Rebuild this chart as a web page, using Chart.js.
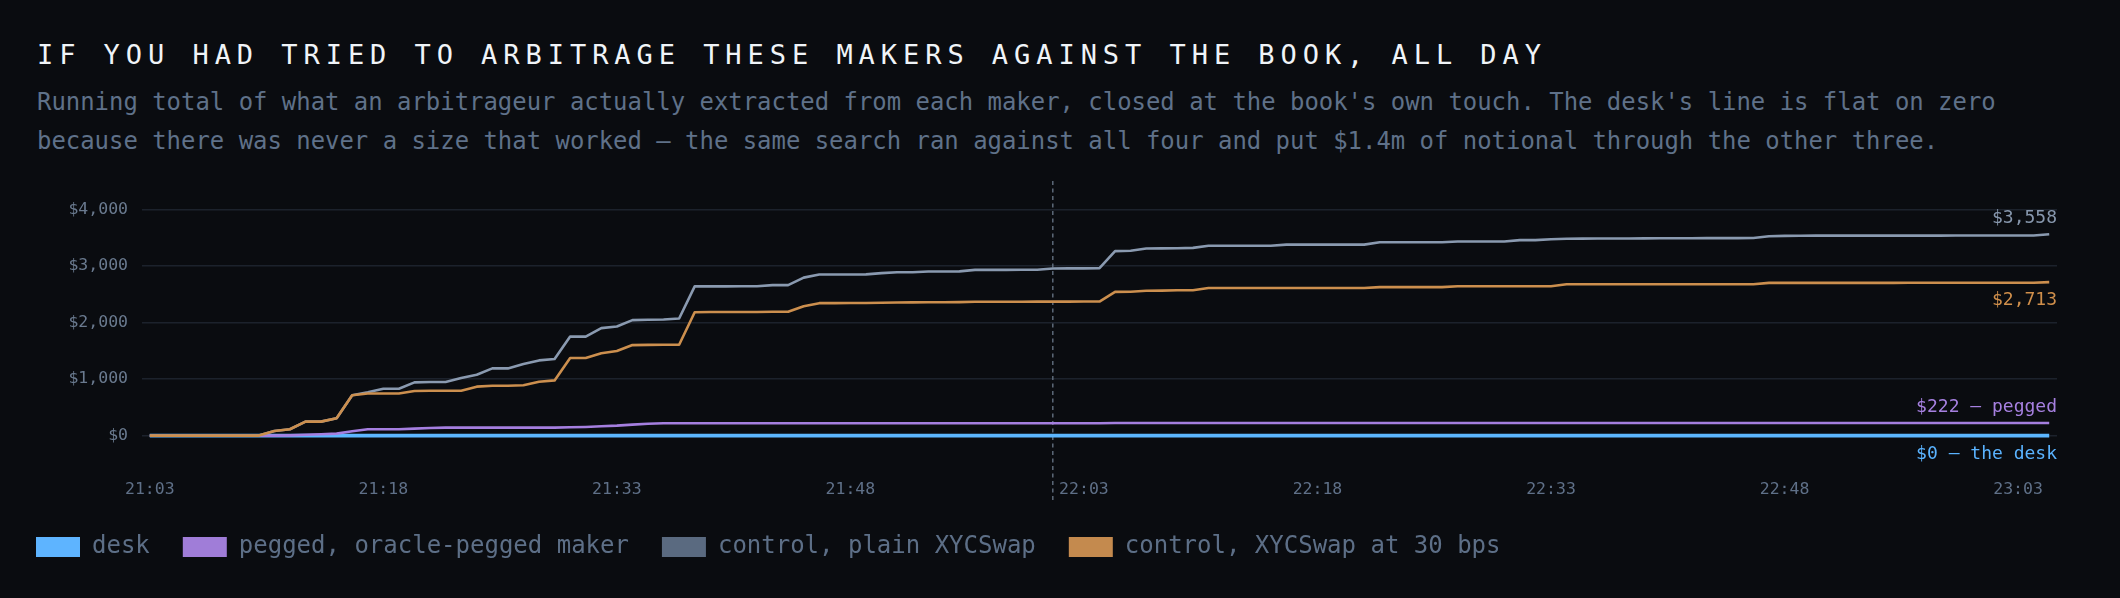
<!DOCTYPE html>
<html>
<head>
<meta charset="utf-8">
<script src="https://cdn.jsdelivr.net/npm/chart.js@4.4.1/dist/chart.umd.min.js"></script>
<style>
  html, body { margin: 0; padding: 0; background: #0a0c10; width: 2120px; height: 598px; overflow: hidden; }
  #title { position: absolute; left: 37px; top: 41px; margin: 0; font: normal 27px/27px 'DejaVu Sans Mono', monospace; letter-spacing: 5.95px; color: #f0f4f8; white-space: nowrap; }
  #sub { position: absolute; left: 37px; top: 82.5px; margin: 0; font: normal 23.93px/39.5px 'DejaVu Sans Mono', monospace; color: #5f7189; white-space: nowrap; }
  #wrap { position: absolute; left: 0; top: 170px; width: 2120px; height: 428px; }
  canvas { display: block; }
</style>
</head>
<body>
<h1 id="title">IF YOU HAD TRIED TO ARBITRAGE THESE MAKERS AGAINST THE BOOK, ALL DAY</h1>
<p id="sub">Running total of what an arbitrageur actually extracted from each maker, closed at the book's own touch. The desk's line is flat on zero<br>because there was never a size that worked — the same search ran against all four and put $1.4m of notional through the other three.</p>
<div id="wrap"><canvas id="c" width="2120" height="428" style="width:2120px;height:428px"></canvas></div>
<script>
// ---------- data ----------
const categories = [
  '21:03','21:04','21:05','21:06','21:07','21:08','21:09','21:10','21:11','21:12','21:13','21:14','21:15','21:16','21:17','21:18','21:19','21:20','21:21','21:22','21:23','21:24','21:25','21:26','21:27','21:28','21:29','21:30','21:31','21:32','21:33','21:34','21:35','21:36','21:37','21:38','21:39','21:40','21:41','21:42','21:43','21:44','21:45','21:46','21:47','21:48','21:49','21:50','21:51','21:52','21:53','21:54','21:55','21:56','21:57','21:58','21:59',
  '22:00','22:01','22:02','22:03','22:04','22:05','22:06','22:07','22:08','22:09','22:10','22:11','22:12','22:13','22:14','22:15','22:16','22:17','22:18','22:19','22:20','22:21','22:22','22:23','22:24','22:25','22:26','22:27','22:28','22:29','22:30','22:31','22:32','22:33','22:34','22:35','22:36','22:37','22:38','22:39','22:40','22:41','22:42','22:43','22:44','22:45','22:46','22:47','22:48','22:49','22:50','22:51','22:52','22:53','22:54','22:55','22:56','22:57','22:58','22:59',
  '23:00','23:01','23:02','23:03','23:04','23:05'
];

const xTickLabels = ['21:03','21:18','21:33','21:48','22:03','22:18','22:33','22:48','23:03'];
const yTickValues = [0, 1000, 2000, 3000, 4000];
const markerTime = '22:01';

const seriesNames = ['desk', 'pegged, oracle-pegged maker', 'control, plain XYCSwap', 'control, XYCSwap at 30 bps'];
const endLabels = ['$0 — the desk', '$222 — pegged', '$3,558', '$2,713'];

const deskValues = [
  0,0,0,0,0,0,0,0,0,0, 0,0,0,0,0,0,0,0,0,0, 0,0,0,0,0,0,0,0,0,0,
  0,0,0,0,0,0,0,0,0,0, 0,0,0,0,0,0,0,0,0,0, 0,0,0,0,0,0,0,0,0,0,
  0,0,0,0,0,0,0,0,0,0, 0,0,0,0,0,0,0,0,0,0, 0,0,0,0,0,0,0,0,0,0,
  0,0,0,0,0,0,0,0,0,0, 0,0,0,0,0,0,0,0,0,0, 0,0,0,0,0,0,0,0,0,0,
  0,0,0
];

const peggedValues = [
  0,0,0,0,0,0,0,0,0,
  5,15,25,35,76,112,112,112,124,135,141,141,141,141,141,141,141,141,147,153,165,176,194,210,218,
  218,218,218,218,218,218,218,218,218,218,218,218,218,218,218,218,218,218,218,218,218,218,218,218,218,218,218,218,
  222,222,222,222,222,222,222,222,222,222,222,222,222,222,222,222,222,222,222,222,
  222,222,222,222,222,222,222,222,222,222,222,222,222,222,222,222,222,222,222,222,
  222,222,222,222,222,222,222,222,222,222,222,222,222,222,222,222,222,222,222,222,222
];

const controlValues = [
  0,0,0,0,0,0,0,0,
  82,112,247,247,306,712,765,829,829,941,947,947,1018,1076,1188,1188,1265,1329,1353,1750,1750,1900,1929,2041,2047,2053,2070,
  2638,2638,2638,2639,2640,2660,2660,2792,2847,2848,2848,2850,2871,2888,2888,2900,2900,2902,2929,2930,2930,2931,2931,2953,2955,2956,2959,
  3260,3266,3307,3309,3312,3318,
  3356,3356,3356,3356,3356,
  3375,3375,3375,3375,3375,3375,
  3418,3418,3418,3418,3418,
  3432,3432,3432,3432,
  3455,3455,
  3470,
  3480,
  3482,3483,3484,3485,3486,3487,3488,3489,3490,3490,3491,
  3492,
  3524,3530,3533,
  3535,3535,3535,3535,3535,3535,3535,3535,3535,3536,3536,3536,3536,3536,3536,
  3558
];

const control30Values = [
  0,0,0,0,0,0,0,0,
  82,112,247,247,306,712,745,745,745,788,794,794,794,865,880,880,890,953,976,1371,1371,1455,1494,1600,1603,1606,1606,
  2180,2185,2185,2185,2186,2188,2188,2288,2341,2342,2344,2345,2347,2353,2355,2357,2358,2359,2366,2366,2367,2367,2368,2368,2368,2369,2369,
  2541,2543,2559,2563,2568,2570,
  2608,2608,2608,2608,2608,2608,2608,2608,2608,2608,2608,
  2625,2625,2625,2625,2625,
  2641,2641,2641,2641,2641,2641,2641,
  2675,2675,2675,2675,2675,2675,2675,2675,2675,2675,2675,2675,2675,
  2700,2700,2700,2700,2700,2700,2700,2700,2700,2701,2701,2701,2701,2701,2701,2701,2701,2701,
  2713
];

// ---------- styles ----------
const lineColors   = ['#5cb6ff', '#a57fe0', '#8a9ab0', '#cc8f4e'];
const legendColors = ['#5eb4ff', '#a07dd8', '#5a6a80', '#c48a4e'];
const labelColors  = ['#5ab3ff', '#a680e0', '#8797ad', '#d08f4b'];
const lineWidths   = [3.6, 2.6, 2.6, 2.6];
const labelAbove   = [false, true, true, false];
const drawOrder    = [3, 2, 1, 0];
const FONT = "'DejaVu Sans Mono', monospace";

const seriesValues = [deskValues, peggedValues, controlValues, control30Values];

const markerPlugin = {
  id: 'marker',
  beforeDatasetsDraw(chart) {
    const { ctx, chartArea, scales } = chart;
    const idx = categories.indexOf(markerTime);
    const x = scales.x.getPixelForValue(idx);
    ctx.save();
    ctx.strokeStyle = '#5d6979';
    ctx.lineWidth = 1.5;
    ctx.setLineDash([4, 3.5]);
    ctx.beginPath();
    ctx.moveTo(x, chartArea.top);
    ctx.lineTo(x, chartArea.bottom + 36);
    ctx.stroke();
    ctx.restore();
  }
};

const endLabelPlugin = {
  id: 'endLabels',
  afterDatasetsDraw(chart) {
    const { ctx, chartArea } = chart;
    ctx.save();
    ctx.font = "18px " + FONT;
    ctx.textAlign = 'right';
    ctx.textBaseline = 'alphabetic';
    chart.data.datasets.forEach((ds, i) => {
      const meta = chart.getDatasetMeta(i);
      const pt = meta.data[meta.data.length - 1];
      const y = labelAbove[i] ? pt.y - 11 : pt.y + 23;
      ctx.fillStyle = labelColors[i];
      ctx.fillText(endLabels[i], chartArea.right, y);
    });
    ctx.restore();
  }
};

new Chart(document.getElementById('c'), {
  type: 'line',
  data: {
    labels: categories,
    datasets: seriesValues.map((vals, i) => ({
      label: seriesNames[i],
      data: vals,
      borderColor: lineColors[i],
      backgroundColor: legendColors[i],
      borderWidth: lineWidths[i],
      pointRadius: 0,
      pointHoverRadius: 0,
      tension: 0,
      fill: false,
      order: drawOrder[i],
      borderJoinStyle: 'round',
      borderCapStyle: 'butt'
    }))
  },
  options: {
    responsive: false,
    devicePixelRatio: 1,
    animation: false,
    events: [],
    layout: { padding: { top: 11, right: 63, bottom: 29, left: 3 } },
    scales: {
      x: {
        type: 'category',
        offset: true,
        grid: { display: false, drawTicks: false },
        border: { display: false },
        afterFit: (scale) => {
          scale.height = scale.height - 13.7;
          scale.paddingLeft = 0;
          scale.paddingRight = 0;
        },
        ticks: {
          autoSkip: false,
          maxRotation: 0,
          minRotation: 0,
          padding: 16,
          color: '#5f7088',
          font: { family: FONT, size: 16.5 },
          callback: function (val) {
            const l = this.getLabelForValue(val);
            return xTickLabels.includes(l) ? l : null;
          }
        }
      },
      y: {
        min: -500,
        max: 4500,
        afterBuildTicks: (scale) => { scale.ticks = yTickValues.map(v => ({ value: v })); },
        afterFit: (scale) => {
          scale.width = 139;
          scale.paddingTop = 0;
          scale.paddingBottom = 0;
        },
        grid: { color: '#1c222c', lineWidth: 1.5, drawTicks: false },
        border: { display: false },
        ticks: {
          padding: 14,
          color: '#6a7a8f',
          font: { family: FONT, size: 16.5 },
          callback: (v) => '$' + Number(v).toLocaleString('en-US')
        }
      }
    },
    plugins: {
      tooltip: { enabled: false },
      legend: {
        position: 'bottom',
        align: 'start',
        labels: {
          boxWidth: 44,
          boxHeight: 20,
          padding: 33,
          color: '#5d6f87',
          font: { family: FONT, size: 24 },
          sort: (a, b) => a.datasetIndex - b.datasetIndex,
          generateLabels: (chart) => {
            const items = Chart.defaults.plugins.legend.labels.generateLabels(chart);
            items.forEach(it => {
              it.fillStyle = legendColors[it.datasetIndex];
              it.strokeStyle = 'rgba(0,0,0,0)';
              it.lineWidth = 0;
            });
            return items;
          }
        }
      }
    }
  },
  plugins: [markerPlugin, endLabelPlugin]
});
</script>
</body>
</html>
